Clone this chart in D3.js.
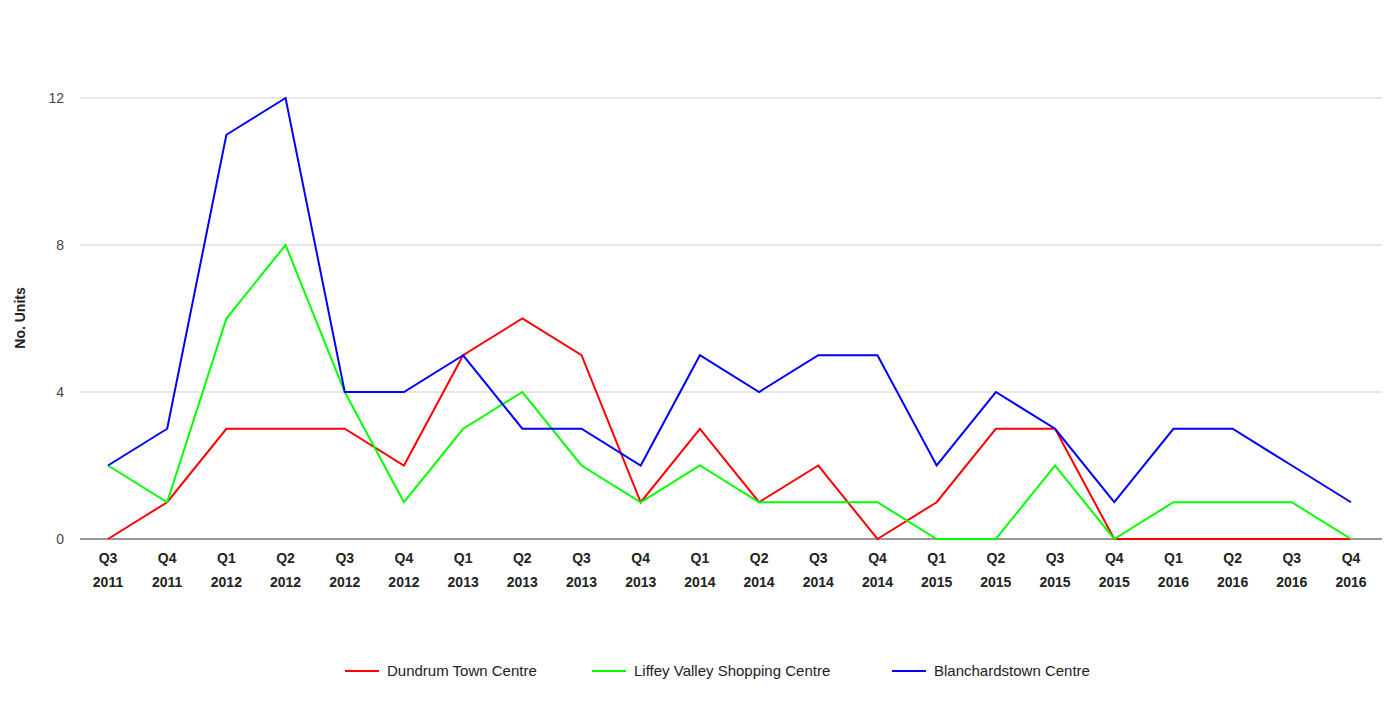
<!DOCTYPE html>
<html><head><meta charset="utf-8">
<script src="https://cdn.jsdelivr.net/npm/d3@7"></script>
<style>body{margin:0;background:#fff;font-family:Arial,"Liberation Sans",sans-serif}</style>
</head><body>
<svg id="chart" width="1398" height="724" font-family="Arial, 'Liberation Sans', sans-serif"></svg>
<script>
let quarters = ["Q3","Q4","Q1","Q2","Q3","Q4","Q1","Q2","Q3","Q4","Q1","Q2","Q3","Q4","Q1","Q2","Q3","Q4","Q1","Q2","Q3","Q4"];
let years = ["2011","2011","2012","2012","2012","2012","2013","2013","2013","2013","2014","2014","2014","2014","2015","2015","2015","2015","2016","2016","2016","2016"];
let dundrum = [0,1,3,3,3,2,5,6,5,1,3,1,2,0,1,3,3,0,0,0,0,0];
let liffey = [2,1,6,8,4,1,3,4,2,1,2,1,1,1,0,0,2,0,1,1,1,0];
let blanch = [2,3,11,12,4,4,5,3,3,2,5,4,5,5,2,4,3,1,3,3,2,1];
let yTicks = [0,4,8,12];

let series = [
    { name: "Dundrum Town Centre", values: dundrum, color: "#ff0000" },
    { name: "Liffey Valley Shopping Centre", values: liffey, color: "#00ff00" },
    { name: "Blanchardstown Centre", values: blanch, color: "#0000ff" }
];

let svg = d3.select("#chart");
let x = d3.scalePoint().domain(d3.range(quarters.length)).range([108, 1351]);
let y = d3.scaleLinear().domain([0, 12]).range([539, 98]);

// gridlines
svg.append("g").selectAll("line").data(yTicks).enter().append("line")
    .attr("x1", 80).attr("x2", 1382)
    .attr("y1", d => y(d)).attr("y2", d => y(d))
    .attr("stroke", d => d === 0 ? "#333" : "#ccc").attr("stroke-width", 1);

svg.append("g").selectAll("text").data(yTicks).enter().append("text")
    .attr("x", 64).attr("y", d => y(d) + 5)
    .attr("text-anchor", "end").attr("font-size", 14).attr("fill", "#444")
    .text(d => d);

let xl = svg.append("g").selectAll("text").data(quarters).enter().append("text")
    .attr("text-anchor", "middle").attr("font-size", 14).attr("font-weight", "bold").attr("fill", "#222");
xl.append("tspan").attr("x", (d, i) => x(i)).attr("y", 563).text(d => d);
xl.append("tspan").attr("x", (d, i) => x(i)).attr("y", 587).text((d, i) => years[i]);

svg.append("text").attr("transform", "translate(25,318) rotate(-90)")
    .attr("text-anchor", "middle").attr("font-size", 14).attr("font-weight", "bold").attr("fill", "#222")
    .text("No. Units");

let line = d3.line().x((d, i) => x(i)).y(d => y(d));
svg.append("g").selectAll("path").data(series).enter().append("path")
    .attr("d", d => line(d.values)).attr("fill", "none")
    .attr("stroke", d => d.color).attr("stroke-width", 2);

// legend
let legX = [345, 592, 892];
let leg = svg.append("g").selectAll("g").data(series).enter().append("g")
    .attr("transform", (d, i) => "translate(" + legX[i] + ",671)");
leg.append("line").attr("x1", 0).attr("x2", 34).attr("stroke", d => d.color).attr("stroke-width", 2);
leg.append("text").attr("x", 42).attr("y", 5).attr("font-size", 15).attr("fill", "#222").text(d => d.name);
</script>
</body></html>
